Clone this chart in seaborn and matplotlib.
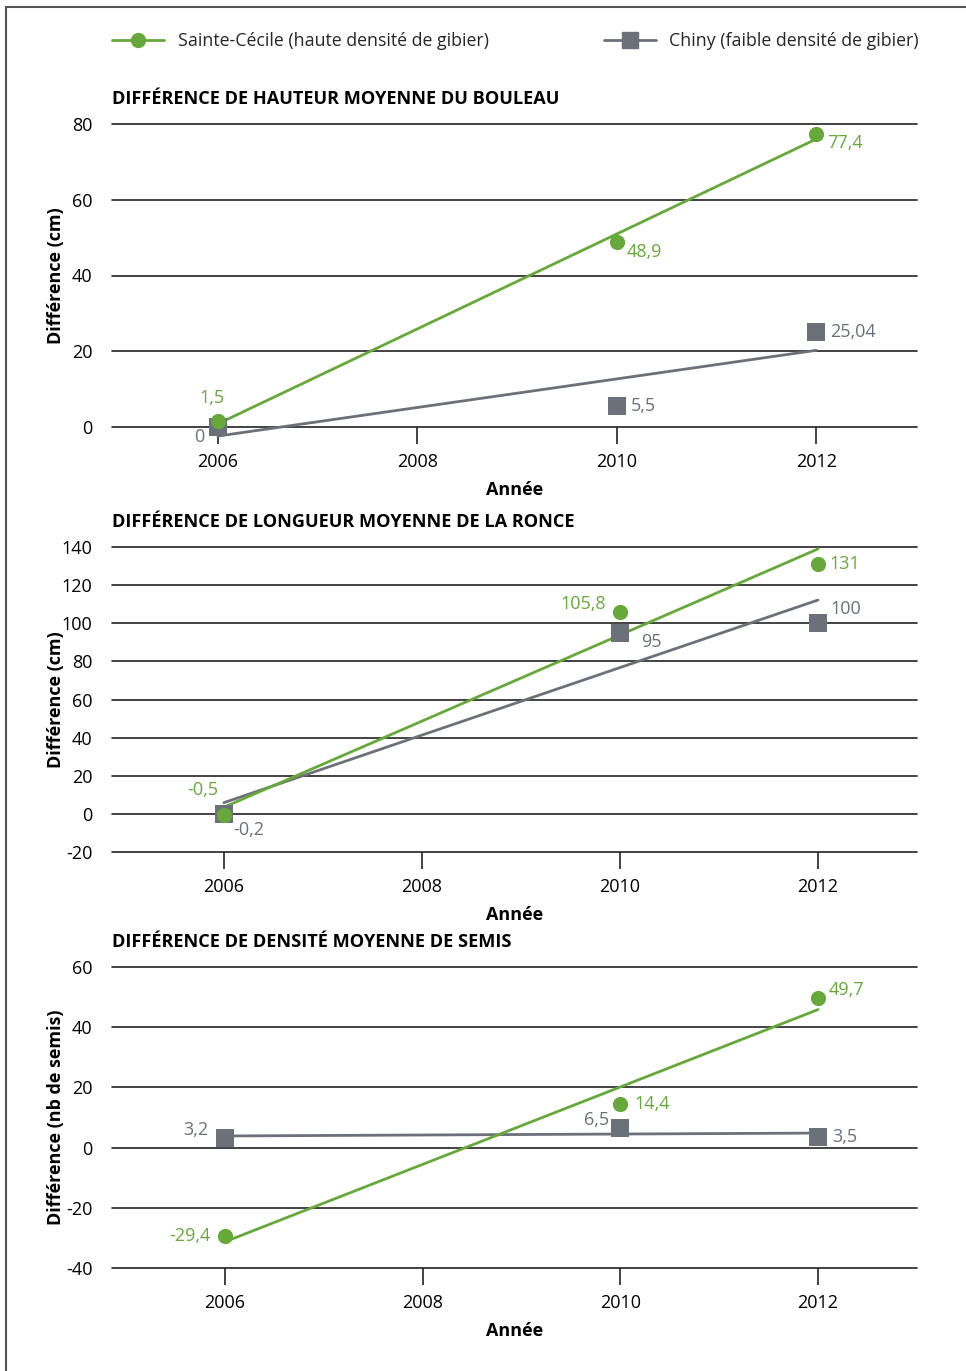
import matplotlib
matplotlib.use("Agg")
import matplotlib.pyplot as plt
from matplotlib.lines import Line2D
from matplotlib.patches import Rectangle
import seaborn as sns
import pandas as pd

sns.set_theme(style="white")
plt.rcParams['font.family'] = ['Open Sans', 'DejaVu Sans']
plt.rcParams['axes.unicode_minus'] = False

years = [2006, 2010, 2012]

# Panel 1: hauteur moyenne du bouleau
bouleau_sc = [1.5, 48.9, 77.4]
bouleau_ch = [0, 5.5, 25.04]
# Panel 2: longueur moyenne de la ronce
ronce_sc = [-0.5, 105.8, 131]
ronce_ch = [-0.2, 95, 100]
# Panel 3: densité moyenne de semis
semis_sc = [-29.4, 14.4, 49.7]
semis_ch = [3.2, 6.5, 3.5]

titles = ["DIFFÉRENCE DE HAUTEUR MOYENNE DU BOULEAU",
          "DIFFÉRENCE DE LONGUEUR MOYENNE DE LA RONCE",
          "DIFFÉRENCE DE DENSITÉ MOYENNE DE SEMIS"]
ylabels = ["Différence (cm)", "Différence (cm)", "Différence (nb de semis)"]
ylims = [(0, 80), (-20, 140), (-40, 60)]
ysteps = [20, 20, 20]
xticks = [2006, 2008, 2010, 2012]
legend_sc = "Sainte-Cécile (haute densité de gibier)"
legend_ch = "Chiny (faible densité de gibier)"

GREEN = "#67a83b"
GREY = "#6b7079"
FS = 13

# label offsets in pixels (dx, dy, ha) for [green, grey] points per panel
offs = [
    ([(-6, 23, 'center'), (10, -10, 'left'), (11, -9, 'left')],
     [(-13, -10, 'right'), (14, 0, 'left'), (14, 0, 'left')]),
    ([(-6, 25, 'right'), (-14, 8, 'right'), (11, 0, 'left')],
     [(9, -16, 'left'), (21, -9, 'left'), (12, 14, 'left')]),
    ([(-14, 0, 'right'), (14, 0, 'left'), (11, 8, 'left')],
     [(-16, 8, 'right'), (-11, 8, 'right'), (14, 0, 'left')]),
]

def fmt(v):
    return f"{v:g}".replace('.', ',')

W, H = 966, 1371
fig = plt.figure(figsize=(W / 100, H / 100), dpi=100)

# frame
fig.add_artist(Rectangle((6 / W, -0.1), 1.2, (H - 7) / H + 0.1, transform=fig.transFigure,
                         fill=False, ec="#555555", lw=1.5))

panels = [(124, 427), (547, 852), (967, 1268)]
data = [(bouleau_sc, bouleau_ch), (ronce_sc, ronce_ch), (semis_sc, semis_ch)]
left, right = 112, 917
xlims = [(2004.94, 2013.01), (2004.87, 2013.0), (2004.86, 2013.0)]

for i, ((top, bot), (sc, ch)) in enumerate(zip(panels, data)):
    ax = fig.add_axes([left / W, 1 - bot / H, (right - left) / W, (bot - top) / H])
    df = pd.DataFrame({"year": years, "sc": sc, "ch": ch})
    sns.regplot(data=df, x="year", y="ch", ax=ax, ci=None, truncate=True, marker='s',
                color=GREY, scatter_kws=dict(s=150, alpha=1, linewidths=0, zorder=3),
                line_kws=dict(lw=2.0, zorder=2))
    sns.regplot(data=df, x="year", y="sc", ax=ax, ci=None, truncate=True, marker='o',
                color=GREEN, scatter_kws=dict(s=120, alpha=1, linewidths=0, zorder=4),
                line_kws=dict(lw=2.0, zorder=2))
    for art in list(ax.lines) + list(ax.collections):
        art.set_clip_on(False)
    ax.set_xlim(*xlims[i])
    lo, hi = ylims[i]
    ax.set_ylim(lo, hi)
    ax.set_yticks(list(range(lo, hi + 1, ysteps[i])))
    ax.set_xticks(xticks)
    ax.grid(False)
    for y in range(lo, hi + 1, ysteps[i]):
        ax.axhline(y, color="#222222", lw=1.2, zorder=1, clip_on=False)
    for s in ax.spines.values():
        s.set_visible(False)
    ax.tick_params(axis='x', bottom=True, length=12, width=1.2, color="#222222",
                   direction='out', pad=7, labelsize=FS, labelcolor='black')
    ax.tick_params(axis='y', left=False, pad=8, labelsize=FS, labelcolor='black')
    ax.set_xlabel("Année", fontsize=FS, fontweight='bold', color='black', labelpad=7)
    ax.set_ylabel(ylabels[i], fontsize=FS, fontweight='bold', color='black')
    ax.yaxis.set_label_coords(-(left - 65) / (right - left), 0.5)
    ax.text(0, 1 + 25 / (bot - top), titles[i], transform=ax.transAxes, fontsize=13.1,
            fontweight='bold', color='black', ha='left', va='center')
    # labels
    for vals, col, of in ((sc, GREEN, offs[i][0]), (ch, GREY, offs[i][1])):
        for x, v, (dx, dy, ha) in zip(years, vals, of):
            ax.annotate(fmt(v), (x, v), xytext=(dx * 0.72, dy * 0.72), textcoords='offset points',
                        ha=ha, va='center', color=col, fontsize=FS, annotation_clip=False)

# legend
h_sc = Line2D([], [], color=GREEN, lw=2, marker='o', markersize=10)
h_ch = Line2D([], [], color=GREY, lw=2, marker='s', markersize=11)
fig.legend([h_sc], [legend_sc], loc='center left', bbox_to_anchor=(112 / W, 1 - 41 / H),
           frameon=False, fontsize=12.8, handlelength=2.95, handletextpad=0.75, borderpad=0,
           borderaxespad=0)
fig.legend([h_ch], [legend_ch], loc='center right', bbox_to_anchor=(919 / W, 1 - 41 / H),
           frameon=False, fontsize=12.8, handlelength=2.95, handletextpad=0.75, borderpad=0,
           borderaxespad=0)

fig.savefig("out.png", dpi=100)
